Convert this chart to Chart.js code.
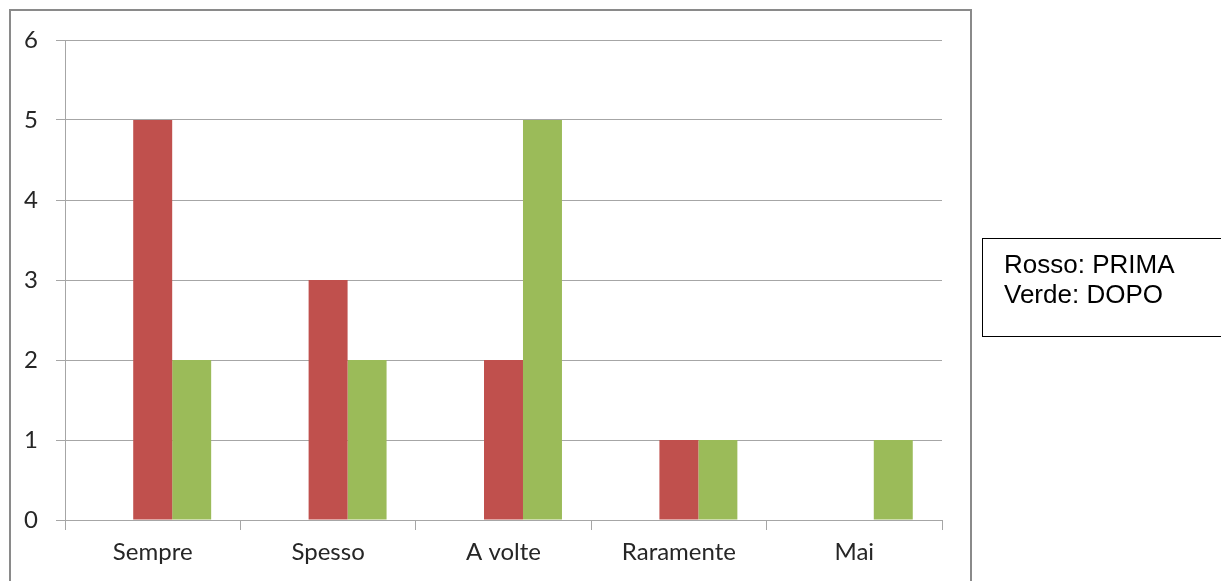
<!DOCTYPE html>
<html lang="it">
<head>
    <meta charset="UTF-8">
    <title>Prima / Dopo</title>
    <script src="https://cdn.jsdelivr.net/npm/chart.js"></script>
    <style>
        html, body { margin: 0; padding: 0; background: #fff; overflow: hidden; }
        #wrap { position: relative; width: 1221px; height: 581px; }
        #frame { position: absolute; left: 9px; top: 9px; width: 959px; height: 600px; border: 2px solid #8a8a8a; }
        #chart { position: absolute; left: 0; top: 0; }
        #note {
            position: absolute; left: 982px; top: 238px; width: 260px; height: 97px;
            border: 1px solid #000; box-sizing: content-box;
            font-family: "Liberation Sans", Arial, sans-serif; font-size: 26px; line-height: 30px;
            color: #000; padding: 0;
        }
        #note div { padding-left: 21px; }
        #note div:first-child { margin-top: 10px; }
    </style>
</head>
<body>
<div id="wrap">
    <div id="frame"></div>
    <canvas id="chart" width="1221" height="581"></canvas>
    <div id="note">
        <div>Rosso: PRIMA</div>
        <div>Verde: DOPO</div>
    </div>
</div>

<script>
    const categories = ['Sempre', 'Spesso', 'A volte', 'Raramente', 'Mai'];
    const prima = [5, 3, 2, 1, 0];
    const dopo = [2, 2, 5, 1, 1];
    // empty first column slot in each group
    const vuota = [null, null, null, null, null];
    const yTicks = [0, 1, 2, 3, 4, 5, 6];

    const axisGray = '#a6a6a6';
    const textColor = '#262626';
    const labelFont = { family: 'Lato, "Open Sans", sans-serif', size: 24 };

    new Chart(document.getElementById('chart'), {
        type: 'bar',
        data: {
            labels: categories,
            datasets: [
                { label: '', data: vuota, backgroundColor: 'rgba(0,0,0,0)' },
                { label: 'PRIMA', data: prima, backgroundColor: '#c0504d' },
                { label: 'DOPO', data: dopo, backgroundColor: '#9bbb59' }
            ]
        },
        options: {
            responsive: false,
            animation: false,
            layout: { padding: { left: 0, right: 279, top: 40, bottom: 0 } },
            datasets: {
                bar: { categoryPercentage: 2 / 3, barPercentage: 1, borderWidth: 0 }
            },
            plugins: {
                legend: { display: false },
                tooltip: { enabled: false }
            },
            scales: {
                x: {
                    offset: true,
                    grid: {
                        drawOnChartArea: false,
                        drawTicks: true,
                        tickLength: 10,
                        color: axisGray,
                        lineWidth: 1
                    },
                    border: { color: axisGray, width: 1 },
                    ticks: { color: textColor, font: labelFont, padding: 8, maxRotation: 0 },
                    afterFit: s => { s.height = 61; }
                },
                y: {
                    min: 0,
                    max: 6,
                    afterBuildTicks: s => { s.ticks = yTicks.map(v => ({ value: v })); },
                    grid: { color: axisGray, lineWidth: 1, tickLength: 9 },
                    border: { color: axisGray, width: 1 },
                    ticks: { color: textColor, font: labelFont, padding: 18 },
                    afterFit: s => { s.width = 65; }
                }
            }
        }
    });
</script>
</body>
</html>
